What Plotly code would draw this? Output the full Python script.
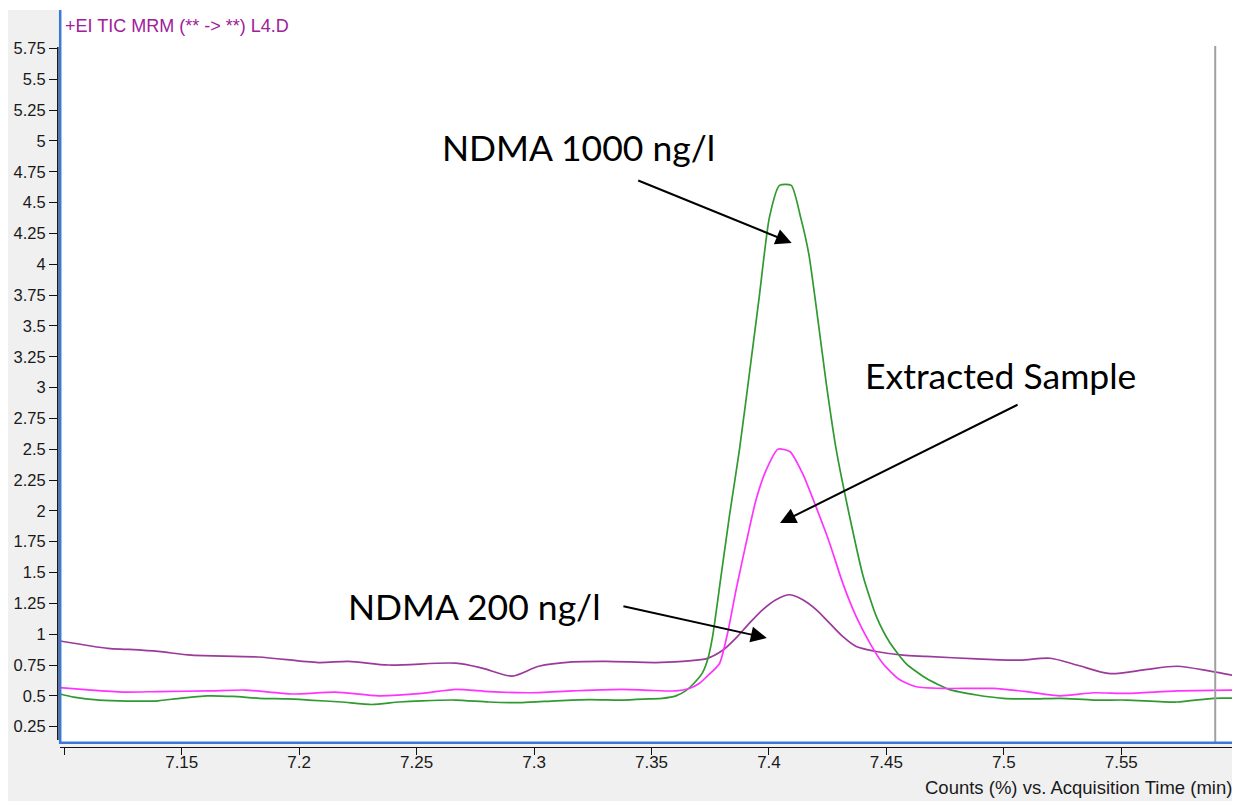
import plotly.graph_objects as go

# ---------------- data ----------------
t_1000 = [7.0982, 7.104, 7.115, 7.127, 7.140, 7.149, 7.161, 7.172, 7.183, 7.195, 7.204,
          7.218, 7.231, 7.2424, 7.2523, 7.2666, 7.2808, 7.295, 7.3092, 7.3234, 7.3376,
          7.349, 7.3547, 7.3604, 7.3645, 7.3685, 7.3718, 7.374, 7.376, 7.3796, 7.3831,
          7.3874, 7.3924, 7.3959, 7.4002, 7.4045, 7.4095, 7.4135, 7.417, 7.4205, 7.4245,
          7.4287, 7.4344, 7.4401, 7.4458, 7.4515, 7.4585, 7.4671, 7.477, 7.4884, 7.4997,
          7.512, 7.524, 7.538, 7.5524, 7.5737, 7.5893, 7.6005]
counts_1000 = [0.515, 0.49, 0.465, 0.458, 0.46, 0.48, 0.50, 0.495, 0.48, 0.475, 0.466,
               0.45, 0.43, 0.45, 0.46, 0.466, 0.45, 0.445, 0.46, 0.47, 0.466,
               0.475, 0.48, 0.50, 0.54, 0.61, 0.69, 0.80, 0.98, 1.47, 1.95,
               2.49, 3.22, 3.74, 4.38, 4.64, 4.64, 4.38, 4.08, 3.60, 3.02,
               2.49, 1.95, 1.47, 1.14, 0.93, 0.76, 0.64, 0.55, 0.507, 0.48,
               0.475, 0.48, 0.466, 0.466, 0.45, 0.48, 0.48]

t_extract = [7.0982, 7.1115, 7.1258, 7.140, 7.1613, 7.177, 7.1968, 7.2154, 7.2338, 7.2523,
             7.2666, 7.2808, 7.2978, 7.3163, 7.3376, 7.349, 7.3604, 7.3661, 7.3703, 7.3732,
             7.3789, 7.3824, 7.386, 7.3903, 7.3945, 7.3988, 7.4038, 7.409, 7.4144, 7.4201,
             7.4258, 7.4315, 7.4372, 7.4429, 7.4486, 7.4557, 7.4628, 7.4741, 7.4955, 7.5097,
             7.524, 7.5381, 7.5524, 7.5737, 7.6005]
counts_extract = [0.566, 0.547, 0.53, 0.535, 0.54, 0.547, 0.515, 0.53, 0.50, 0.52,
                  0.553, 0.534, 0.525, 0.54, 0.553, 0.545, 0.54, 0.56, 0.60, 0.65,
                  0.76, 1.01, 1.36, 1.74, 2.09, 2.33, 2.50, 2.48, 2.30, 2.03,
                  1.74, 1.41, 1.14, 0.93, 0.76, 0.63, 0.574, 0.56, 0.56, 0.534,
                  0.50, 0.525, 0.52, 0.54, 0.547]

t_200 = [7.0982, 7.1186, 7.1267, 7.140, 7.1542, 7.1826, 7.2082, 7.221, 7.2381, 7.2666,
         7.2779, 7.2907, 7.302, 7.3163, 7.3305, 7.3519, 7.3632, 7.369, 7.3732, 7.3803,
         7.386, 7.3917, 7.3974, 7.403, 7.4087, 7.4144, 7.4201, 7.4258, 7.4315, 7.4372,
         7.4457, 7.4571, 7.4671, 7.4884, 7.5069, 7.5197, 7.5311, 7.5453, 7.5595, 7.5737,
         7.5879, 7.6005]
counts_200 = [0.945, 0.885, 0.877, 0.86, 0.83, 0.815, 0.77, 0.78, 0.75, 0.765,
              0.725, 0.66, 0.74, 0.775, 0.78, 0.77, 0.78, 0.79, 0.80, 0.87,
              0.97, 1.09, 1.20, 1.28, 1.32, 1.28, 1.20, 1.09, 0.98, 0.90,
              0.86, 0.83, 0.82, 0.80, 0.79, 0.805, 0.75, 0.68, 0.71, 0.74,
              0.70, 0.655]

x_tick_vals = [7.1, 7.15, 7.2, 7.25, 7.3, 7.35, 7.4, 7.45, 7.5, 7.55, 7.6]
x_tick_text = ["", "7.15", "7.2", "7.25", "7.3", "7.35", "7.4", "7.45", "7.5", "7.55", "7.6"]
y_tick_vals = [0.25, 0.5, 0.75, 1, 1.25, 1.5, 1.75, 2, 2.25, 2.5, 2.75, 3, 3.25, 3.5,
               3.75, 4, 4.25, 4.5, 4.75, 5, 5.25, 5.5, 5.75]
y_tick_text = ["0.25", "0.5", "0.75", "1", "1.25", "1.5", "1.75", "2", "2.25", "2.5", "2.75",
               "3", "3.25", "3.5", "3.75", "4", "4.25", "4.5", "4.75", "5", "5.25", "5.5", "5.75"]

x_range = [7.09817, 7.60055]
y_range = [0.1176, 6.062]
marker_time = 7.590
marker_top = 5.77

header = "+EI TIC MRM (** -> **) L4.D"
axis_title = "Counts (%) vs. Acquisition Time (min)"

labels = [
    # text, x, y
    ("NDMA 1000 ng/l", 7.2600, 4.951),
    ("Extracted Sample", 7.4400, 3.094),
    ("NDMA 200 ng/l", 7.2199, 1.2206),
]
arrows = [
    # tail x, tail y, tip x, tip y
    (7.3437, 4.684, 7.4097, 4.173),
    (7.5065, 2.867, 7.4047, 1.902),
    (7.3374, 1.229, 7.3991, 0.969),
]

# ---------------- figure ----------------
OFF = 8                     # page body margin of the html page
W, H = 1240 - OFF, 801 - OFF
ML, MR, MT, MB = 49, 0, 2, 54
PW, PH = W - ML - MR, H - MT - MB


def px_x(px):
    """screen x pixel -> paper coordinate"""
    return (px - OFF - ML) / PW


def px_y(py):
    """screen y pixel -> paper coordinate"""
    return (H - MB - (py - OFF)) / PH


fig = go.Figure()
fig.add_trace(go.Scatter(x=t_200, y=counts_200, mode="lines",
                         line=dict(color="#9b3a9b", width=1.7, shape="spline", smoothing=0.8),
                         name="NDMA 200 ng/l"))
fig.add_trace(go.Scatter(x=t_1000, y=counts_1000, mode="lines",
                         line=dict(color="#2f9a2f", width=1.7, shape="spline", smoothing=0.6),
                         name="NDMA 1000 ng/l"))
fig.add_trace(go.Scatter(x=t_extract, y=counts_extract, mode="lines",
                         line=dict(color="#ff33ff", width=1.7, shape="spline", smoothing=0.6),
                         name="Extracted Sample"))

shapes = [
    # thin white strip above the grey frame
    dict(type="rect", xref="paper", yref="paper", x0=px_x(8), x1=1, y0=px_y(10), y1=px_y(8),
         fillcolor="white", line=dict(width=0), layer="below"),
    # grey vertical marker line
    dict(type="line", xref="x", yref="y", x0=marker_time, x1=marker_time, y0=y_range[0], y1=marker_top,
         line=dict(color="#a0a0a0", width=2)),
    # blue plot frame (left and bottom)
    dict(type="line", xref="paper", yref="paper", x0=px_x(60.2), x1=px_x(60.2), y0=px_y(744), y1=px_y(10),
         line=dict(color="#3c78d8", width=2.5), layer="above"),
    dict(type="line", xref="paper", yref="paper", x0=px_x(59), x1=1, y0=px_y(742.8), y1=px_y(742.8),
         line=dict(color="#3c78d8", width=2.5), layer="above"),
    # black y axis line
    dict(type="line", xref="paper", yref="paper", x0=px_x(57.8), x1=px_x(57.8), y0=px_y(740), y1=px_y(47),
         line=dict(color="#111111", width=1.5), layer="above"),
]

annotations = [
    dict(text=header, xref="paper", yref="paper", x=px_x(63), y=px_y(26), xanchor="left",
         yanchor="middle", showarrow=False,
         font=dict(family="Liberation Sans, Arial, sans-serif", size=18, color="#a0209a")),
    dict(text=axis_title, xref="paper", yref="paper", x=px_x(1234), y=px_y(787), xanchor="right",
         yanchor="middle", showarrow=False,
         font=dict(family="Liberation Sans, Arial, sans-serif", size=18.5, color="#1a1a1a")),
]
for text, lx, ly in labels:
    annotations.append(dict(text=text, x=lx, y=ly, xref="x", yref="y", xanchor="left",
                            yanchor="middle", showarrow=False,
                            font=dict(family="Lato, sans-serif", size=35.5, color="#000000")))
for tx, ty, hx, hy in arrows:
    annotations.append(dict(text="", x=hx, y=hy, xref="x", yref="y", ax=tx, ay=ty,
                            axref="x", ayref="y", showarrow=True, arrowhead=2, arrowsize=1.6,
                            arrowwidth=2, arrowcolor="#000000", standoff=0, startstandoff=0))

fig.update_layout(
    width=W, height=H,
    margin=dict(l=ML, r=MR, t=MT, b=MB, autoexpand=False),
    paper_bgcolor="#f0f0f0",
    plot_bgcolor="#ffffff",
    showlegend=False,
    shapes=shapes,
    annotations=annotations,
    xaxis=dict(range=x_range, domain=[px_x(60), 1], anchor="free", position=0,
               tickvals=x_tick_vals, ticktext=x_tick_text,
               showgrid=False, zeroline=False, showline=True, linecolor="#111111", linewidth=1.2,
               ticks="outside", ticklen=7, tickwidth=1.2, tickcolor="#111111",
               ticklabelstandoff=-8,
               tickfont=dict(family="Liberation Sans, Arial, sans-serif", size=17, color="#1a1a1a")),
    yaxis=dict(range=y_range, domain=[px_y(743), 1], anchor="free", position=0,
               tickvals=y_tick_vals, ticktext=y_tick_text,
               showgrid=False, zeroline=False, showline=False,
               ticks="outside", ticklen=8, tickwidth=1.2, tickcolor="#111111",
               tickfont=dict(family="Liberation Sans, Arial, sans-serif", size=16.5, color="#1a1a1a")),
)

fig.write_html("out.html")
